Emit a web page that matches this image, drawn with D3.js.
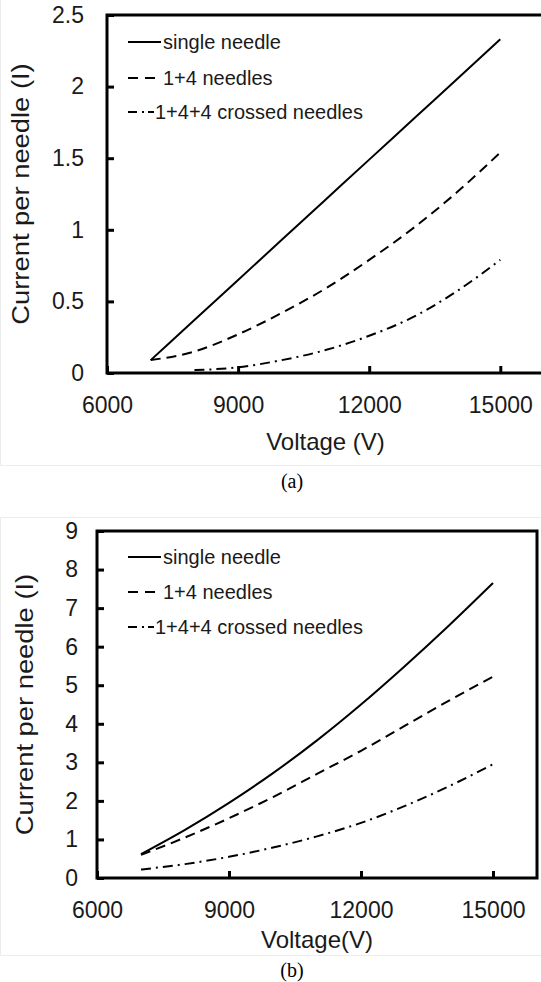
<!DOCTYPE html>
<html><head><meta charset="utf-8">
<script src="https://cdn.jsdelivr.net/npm/d3@7"></script>
<style>body{margin:0;background:#fff}svg{display:block}</style>
</head><body>
<script>
// ---------- DATA ----------
const seriesNames = ["single needle", "1+4 needles", "1+4+4 crossed needles"];
const xTicks = [6000, 9000, 12000, 15000];
const yTicksA = [0, 0.5, 1, 1.5, 2, 2.5];
const yTicksB = [0, 1, 2, 3, 4, 5, 6, 7, 8, 9];

// chart (a)
const voltA = [7000, 8000, 9000, 10000, 11000, 12000, 13000, 14000, 15000];
const singleA = [0.09, 0.37, 0.65, 0.93, 1.21, 1.49, 1.77, 2.05, 2.33];
const fourA = [0.09, 0.15, 0.27, 0.42, 0.59, 0.79, 1.01, 1.26, 1.54];
const voltCrossA = [8000, 9000, 10000, 11000, 12000, 13000, 14000, 15000];
const crossA = [0.02, 0.04, 0.09, 0.16, 0.26, 0.39, 0.57, 0.79];

// chart (b)
const voltB = [7000, 8000, 9000, 10000, 11000, 12000, 13000, 14000, 15000];
const singleB = [0.62, 1.25, 1.95, 2.72, 3.57, 4.5, 5.5, 6.55, 7.65];
const fourB = [0.6, 1.05, 1.55, 2.1, 2.7, 3.3, 3.95, 4.6, 5.22];
const crossB = [0.22, 0.36, 0.55, 0.79, 1.08, 1.43, 1.87, 2.38, 2.95];

// ---------- DRAW ----------
const W = 541, H = 982;
const svg = d3.select("body").append("svg").attr("width", W).attr("height", H);

// faint figure borders
svg.append("path").attr("d", "M0.5,0V465.5H541").attr("fill", "none").attr("stroke", "#ececec");
svg.append("path").attr("d", "M541,517.5H0.5V955.5H541").attr("fill", "none").attr("stroke", "#ececec");

const dashes = [null, "10,6", "10,5,2,5"];
const legDashes = [null, "10,7", "9,5,2,4,6,20"];
const legLen = [33, 27, 26];
const legTextX = [163, 163, 155];
const FONT = "Liberation Sans, Arial, sans-serif";

function chart(cfg) {
  const g = svg.append("g");
  const x = d3.scaleLinear().domain([6000, 16000]).range([cfg.left, cfg.right]);
  const y = d3.scaleLinear().domain([0, cfg.ymax]).range([cfg.bottom, cfg.top]);

  // frame
  g.append("rect").attr("x", cfg.left).attr("y", cfg.top)
    .attr("width", cfg.right - cfg.left).attr("height", cfg.bottom - cfg.top)
    .attr("fill", "none").attr("stroke", "#000").attr("stroke-width", 3);

  const ax = g.append("g").attr("transform", `translate(0,${cfg.bottom})`)
    .call(d3.axisBottom(x).tickValues(xTicks).tickSize(-7).tickSizeOuter(0).tickPadding(24).tickFormat(d3.format("d")));
  const ay = g.append("g").attr("transform", `translate(${cfg.left},0)`)
    .call(d3.axisLeft(y).tickValues(cfg.yTicks).tickSize(-7).tickSizeOuter(0).tickPadding(cfg.ypad).tickFormat(d => String(d)));
  [ax, ay].forEach(a => {
    a.select(".domain").remove();
    a.selectAll(".tick line").attr("stroke", "#000").attr("stroke-width", 3);
    a.selectAll(".tick text").attr("fill", "#1a1a1a").style("font-family", FONT).style("font-size", "23px");
  });

  const line = d3.line().x(d => x(d[0])).y(d => y(d[1])).curve(d3.curveMonotoneX);
  cfg.series.forEach((s, i) => {
    g.append("path").datum(d3.zip(s.v, s.c)).attr("d", line)
      .attr("fill", "none").attr("stroke", "#000").attr("stroke-width", 2)
      .attr("stroke-dasharray", dashes[i]);
  });

  // legend
  seriesNames.forEach((n, i) => {
    const ly = cfg.legY[i];
    g.append("line").attr("x1", cfg.legX).attr("x2", cfg.legX + legLen[i]).attr("y1", ly).attr("y2", ly)
      .attr("stroke", "#000").attr("stroke-width", 2).attr("stroke-dasharray", legDashes[i]);
    g.append("text").attr("x", legTextX[i]).attr("y", ly).attr("dy", "0.35em")
      .style("font-family", FONT).style("font-size", "20px").attr("fill", "#1a1a1a").text(n);
  });

  // axis titles
  g.append("text").attr("x", (cfg.left + cfg.right) / 2).attr("y", cfg.xtY).attr("text-anchor", "middle")
    .style("font-family", FONT).style("font-size", "24px").attr("fill", "#1a1a1a").text(cfg.xTitle);
  g.append("text").attr("transform", `translate(${cfg.ytX},${(cfg.top + cfg.bottom) / 2}) rotate(-90) scale(1.14,1)`)
    .attr("text-anchor", "middle")
    .style("font-family", FONT).style("font-size", "24px").attr("fill", "#1a1a1a").text("Current per needle (I)");
  // caption
  g.append("text").attr("x", 292).attr("y", cfg.capY).attr("text-anchor", "middle")
    .style("font-family", "Liberation Serif, Times New Roman, serif").style("font-size", "20px").attr("fill", "#000").text(cfg.cap);
}

chart({
  left: 107, right: 544, top: 15, bottom: 373, ymax: 2.5, yTicks: yTicksA, ypad: 23,
  series: [{v: voltA, c: singleA}, {v: voltA, c: fourA}, {v: voltCrossA, c: crossA}],
  legX: 128, legY: [42, 78, 112],
  xTitle: "Voltage (V)", xtY: 450, ytX: 29, cap: "(a)", capY: 488
});
chart({
  left: 97, right: 537, top: 531, bottom: 878, ymax: 9, yTicks: yTicksB, ypad: 19,
  series: [{v: voltB, c: singleB}, {v: voltB, c: fourB}, {v: voltB, c: crossB}],
  legX: 128, legY: [557, 592, 627],
  xTitle: "Voltage(V)", xtY: 948, ytX: 33, cap: "(b)", capY: 977
});
</script>
</body></html>
